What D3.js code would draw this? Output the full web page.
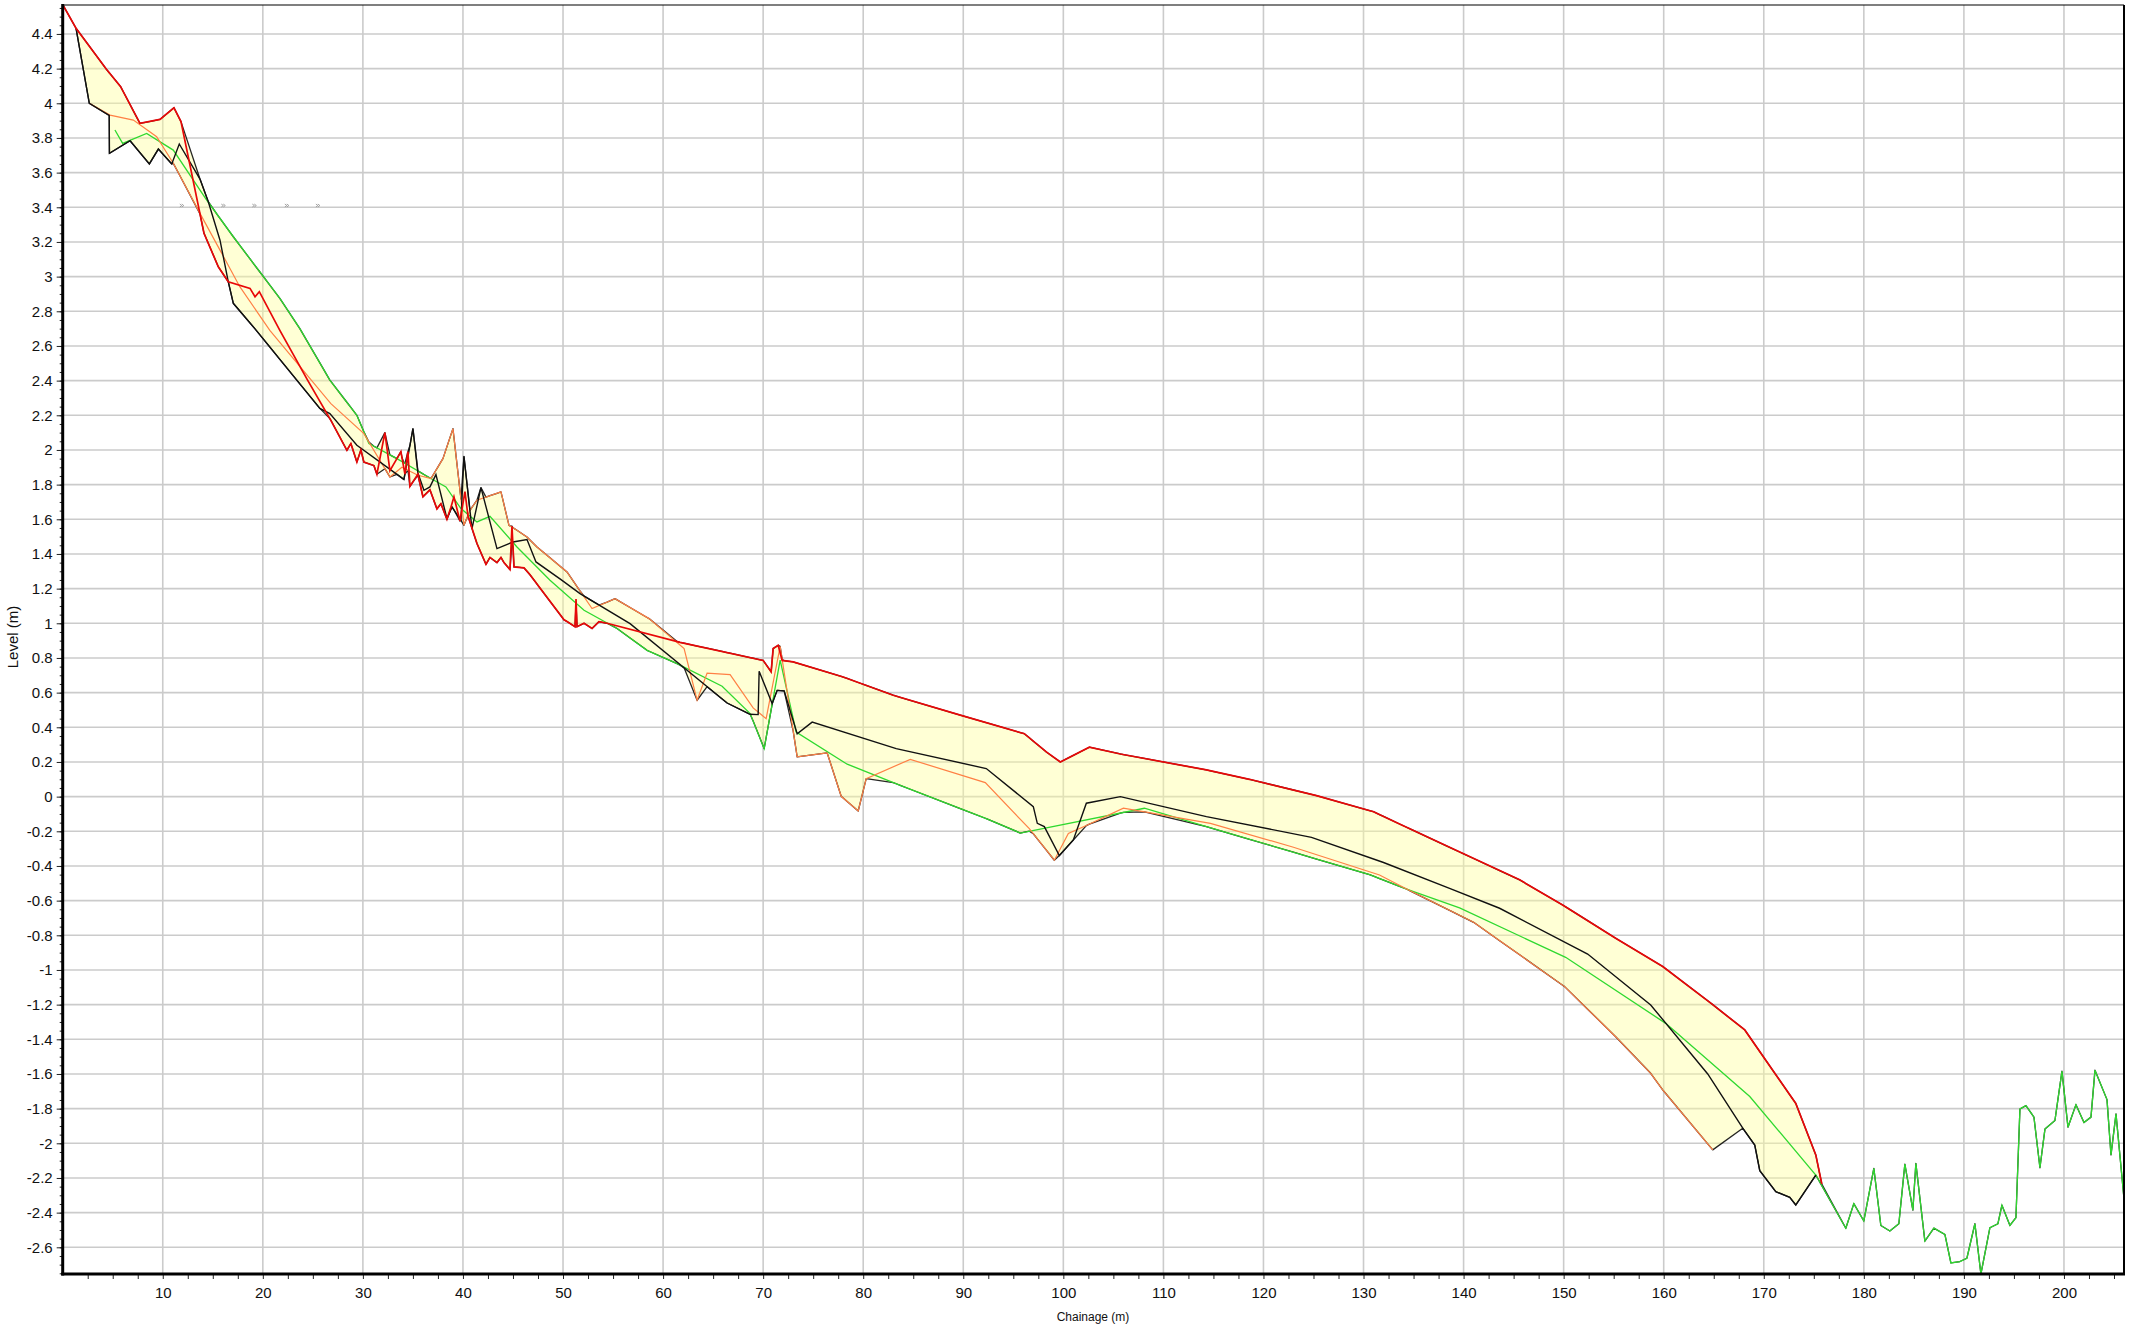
<!DOCTYPE html>
<html>
<head>
<meta charset="utf-8">
<script src="https://cdn.jsdelivr.net/npm/d3@7"></script>
<style>
  html, body { margin: 0; padding: 0; background: #fff; }
  svg { display: block; }
  text { font-family: "Liberation Sans", Arial, sans-serif; fill: #111; }
</style>
</head>
<body>
<svg id="chart" width="2134" height="1334"></svg>
<script>
// ---------------- DATA ----------------
const xTickLabels = [10,20,30,40,50,60,70,80,90,100,110,120,130,140,150,160,170,180,190,200];
const yTickLabels = [-2.6,-2.4,-2.2,-2,-1.8,-1.6,-1.4,-1.2,-1,-0.8,-0.6,-0.4,-0.2,0,0.2,0.4,0.6,0.8,1,1.2,1.4,1.6,1.8,2,2.2,2.4,2.6,2.8,3,3.2,3.4,3.6,3.8,4,4.2,4.4];
const xTitle = "Chainage (m)";
const yTitle = "Level (m)";

// [chainage, level]
const redProfile = [
 [0.06,4.563],[1.33,4.433],[4.37,4.196],[5.79,4.096],[7.72,3.884],[9.72,3.907],[11.12,3.974],[11.82,3.894],
 [14.12,3.25],[15.55,3.057],[16.55,2.97],[18.72,2.932],[19.22,2.884],[19.65,2.913],[21.7,2.69],[24.5,2.4],
 [26.8,2.171],[28.4,1.998],[28.8,2.037],[29.4,1.93],[29.8,2.0],[30.1,1.93],[31.1,1.91],[31.4,1.86],[32.2,2.10],
 [32.7,1.88],[33.4,1.95],[33.8,1.99],[34.2,1.86],[34.5,1.99],[34.7,1.79],[35.5,1.86],[36.0,1.73],[36.7,1.77],
 [37.4,1.66],[37.8,1.69],[38.4,1.60],[38.8,1.67],[39.1,1.73],[39.7,1.59],[40.2,1.76],[40.5,1.62],[41.4,1.46],
 [42.3,1.34],[42.7,1.38],[43.4,1.35],[43.8,1.38],[44.1,1.35],[44.7,1.31],[44.9,1.56],[45.1,1.325],[46.1,1.32],
 [46.7,1.28],[50.1,1.02],[50.4,1.01],[51.2,0.98],[51.3,1.14],[51.4,0.98],[52.1,1.0],[52.9,0.97],[53.6,1.01],
 [54.4,1.0],[61.7,0.89],[70.0,0.786],[70.8,0.72],[71.0,0.854],[71.5,0.873],[71.9,0.786],[73.0,0.777],[78.0,0.69],
 [83.0,0.585],[89.7,0.47],[96.1,0.363],[98.3,0.258],[99.7,0.2],[102.6,0.285],[105.7,0.246],[114.3,0.154],
 [118.6,0.10],[125.3,0.006],[131.0,-0.087],[133.6,-0.158],[140.0,-0.33],[145.6,-0.48],[149.9,-0.625],
 [155.2,-0.817],[159.9,-0.98],[164.9,-1.20],[168.1,-1.346],[173.2,-1.77],[175.2,-2.067],[175.8,-2.235]
];

const blackProfile = [
 [1.33,4.433],[2.66,4.0],[4.65,3.93],[4.67,3.711],[6.73,3.784],[8.66,3.65],[9.56,3.736],[10.9,3.65],[11.65,3.765],
 [13.72,3.563],[14.55,3.432],[15.72,3.21],[16.55,2.97],[17.05,2.846],[19.2,2.70],[25.7,2.24],[26.7,2.21],[29.4,2.027],
 [34.1,1.83],[35.0,2.123],[35.5,1.867],[36.1,1.767],[36.7,1.787],[37.3,1.858],[38.4,1.604],[38.9,1.671],[39.8,1.594],
 [40.1,1.963],[40.9,1.546],[41.8,1.783],[43.4,1.431],[45.0,1.469],[46.4,1.483],[47.3,1.354],[49.8,1.252],[51.7,1.171],
 [56.7,0.998],[66.4,0.54],[68.7,0.475],[69.5,0.473],[69.6,0.723],[70.9,0.537],[71.4,0.613],[72.1,0.61],[73.4,0.363],
 [74.9,0.43],[83.3,0.277],[92.3,0.162],[97.0,-0.058],[97.4,-0.154],[98.1,-0.173],[99.6,-0.34],[101.0,-0.25],
 [102.3,-0.038],[105.7,0.0],[114.3,-0.115],[124.8,-0.235],[132.0,-0.38],[138.6,-0.529],[143.6,-0.644],[152.4,-0.908],
 [158.7,-1.202],[164.4,-1.60],[167.9,-1.913],[169.1,-2.01],[169.6,-2.158],[171.2,-2.279],[172.6,-2.312],[173.2,-2.356],
 [175.2,-2.183]
];

const orangeProfile = [
 [2.66,4.0],[4.73,3.932],[7.06,3.903],[9.39,3.807],[11.05,3.654],[13.72,3.365],[15.72,3.153],[17.7,2.942],[20.7,2.69],
 [26.8,2.267],[30.1,2.094],[32.7,1.844],[33.9,1.90],[35.5,1.854],[36.8,1.835],[38.0,1.95],[39.0,2.123],[40.1,1.565],
 [40.7,1.652],[41.4,1.71],[43.8,1.758],[44.6,1.565],[45.4,1.537],[46.4,1.498],[47.4,1.44],[50.4,1.296],[52.9,1.085],
 [55.2,1.142],[58.6,1.027],[62.1,0.854],[63.4,0.556],[64.4,0.713],[66.7,0.704],[69.0,0.512],[70.3,0.45],[71.7,0.867],
 [73.4,0.229],[76.4,0.252],[77.8,0.002],[79.5,-0.083],[80.3,0.104],[84.7,0.215],[92.2,0.081],[96.6,-0.185],
 [99.1,-0.367],[100.5,-0.212],[102.3,-0.167],[106.0,-0.067],[114.7,-0.154],[123.0,-0.292],[131.6,-0.452],
 [134.6,-0.542],[141.0,-0.725],[150.1,-1.096],[155.2,-1.385],[158.7,-1.596],[159.9,-1.692],[164.9,-2.038]
];

const greenProfile = [
 [5.22,3.846],[5.99,3.769],[8.39,3.826],[11.05,3.73],[14.39,3.442],[17.05,3.23],[21.7,2.874],[23.7,2.70],[26.7,2.403],
 [29.4,2.2],[30.6,2.037],[33.4,1.95],[36.8,1.835],[38.3,1.787],[39.8,1.662],[41.4,1.585],[42.7,1.617],[45.4,1.44],
 [48.7,1.248],[52.1,1.075],[55.4,0.97],[58.4,0.844],[61.4,0.767],[65.9,0.637],[68.7,0.479],[70.1,0.277],[71.7,0.787],
 [73.3,0.373],[78.4,0.187],[83.7,0.065],[92.3,-0.127],[95.7,-0.21],[108.1,-0.067],[114.3,-0.173],[130.6,-0.45],
 [134.3,-0.533],[139.6,-0.642],[150.2,-0.927],[160.2,-1.308],[168.6,-1.73],[175.2,-2.183],[178.2,-2.49],[179.0,-2.348],
 [180.0,-2.448],[181.0,-2.145],[181.7,-2.474],[182.6,-2.506],[183.5,-2.464],[184.1,-2.12],[184.9,-2.386],[185.2,-2.116],
 [186.1,-2.564],[187.0,-2.489],[188.1,-2.526],[188.7,-2.69],[189.6,-2.682],[190.3,-2.663],[191.1,-2.464],[191.7,-2.754],
 [192.6,-2.487],[193.4,-2.464],[193.8,-2.357],[194.6,-2.474],[195.2,-2.429],[195.6,-1.802],[196.2,-1.783],[197.0,-1.849],
 [197.6,-2.141],[198.1,-1.918],[199.1,-1.868],[199.8,-1.584],[200.4,-1.907],[201.2,-1.777],[202.0,-1.88],[202.7,-1.849],
 [203.1,-1.578],[204.3,-1.748],[204.7,-2.067],[205.2,-1.83],[206.0,-2.319]
];

// small grey markers along level 3.4
const markerChainage = [11.9, 16.05, 19.15, 22.4, 25.5];
const markerLevel = 3.41;

// ---------------- CHART ----------------
const svg = d3.select("#chart");
const X0 = 62.7, X1 = 2124, Y0 = 5, Y1 = 1274;
const x = d3.scaleLinear().domain([0, 206]).range([X0, X1]);
const y = d3.scaleLinear().domain([-2.754, 4.567]).range([Y1, Y0]);

const plot = svg.append("g");
svg.append("defs").append("clipPath").attr("id", "clip")
  .append("rect").attr("x", X0).attr("y", Y0).attr("width", X1 - X0).attr("height", Y1 - Y0);

// grid
const grid = plot.append("g").attr("stroke", "#cbcbcb").attr("stroke-width", 1.6);
grid.selectAll("line.v").data(xTickLabels).join("line")
  .attr("x1", d => x(d)).attr("x2", d => x(d)).attr("y1", Y0).attr("y2", Y1);
grid.selectAll("line.h").data(yTickLabels).join("line")
  .attr("x1", X0).attr("x2", X1).attr("y1", d => y(d)).attr("y2", d => y(d));

// envelope fill between all profiles
const profiles = [redProfile, blackProfile, orangeProfile, greenProfile];
function interp(p, cx) {
  if (cx < p[0][0] || cx > p[p.length - 1][0]) return null;
  let vals = [];
  for (let i = 0; i < p.length; i++) {
    if (p[i][0] === cx) vals.push(p[i][1]);
  }
  if (vals.length) return vals;
  for (let i = 0; i < p.length - 1; i++) {
    const a = p[i], b = p[i + 1];
    if (a[0] < cx && cx < b[0]) return [a[1] + (b[1] - a[1]) * (cx - a[0]) / (b[0] - a[0])];
  }
  return null;
}
const xs = Array.from(new Set(profiles.flatMap(p => p.map(d => d[0])))).sort((a, b) => a - b);
const env = xs.map(cx => {
  let vs = [];
  profiles.forEach(p => { const r = interp(p, cx); if (r) vs = vs.concat(r); });
  return { c: cx, lo: d3.min(vs), hi: d3.max(vs) };
});
const area = d3.area().x(d => x(d.c)).y0(d => y(d.lo)).y1(d => y(d.hi));
const g = plot.append("g").attr("clip-path", "url(#clip)");
g.append("path").datum(env).attr("d", area)
  .attr("fill", "#ffff9a").attr("fill-opacity", 0.42)
  .attr("stroke", "#000").attr("stroke-opacity", 0.85).attr("stroke-width", 1.3)
  .attr("stroke-linejoin", "round");

const line = d3.line().x(d => x(d[0])).y(d => y(d[1]));
g.append("path").datum(greenProfile).attr("d", line).attr("fill", "none")
  .attr("stroke", "#2fd92f").attr("stroke-width", 1.3);
g.append("path").datum(orangeProfile).attr("d", line).attr("fill", "none")
  .attr("stroke", "#ff8045").attr("stroke-width", 1.2);
g.append("path").datum(blackProfile).attr("d", line).attr("fill", "none")
  .attr("stroke", "#111").attr("stroke-width", 1.4);
g.append("path").datum(redProfile).attr("d", line).attr("fill", "none")
  .attr("stroke", "#e80808").attr("stroke-width", 1.7);

// markers
g.selectAll("path.mk").data(markerChainage).join("path")
  .attr("transform", d => `translate(${x(d)},${y(markerLevel)})`)
  .attr("d", "M-2,-1.5L0,0L-2,1.5M0,-1.5L2,0L0,1.5")
  .attr("fill", "none").attr("stroke", "#999").attr("stroke-width", 0.9);

// axes
const yMinor = d3.range(-55, 92).map(i => i * 0.05);
const yAxisMinor = d3.axisLeft(y).tickValues(yMinor).tickSize(3).tickFormat("");
svg.append("g").attr("transform", `translate(${X0},0)`).call(yAxisMinor)
  .call(a => a.select(".domain").remove())
  .selectAll("line").attr("stroke", "#222");
const yAxis = d3.axisLeft(y).tickValues(yTickLabels).tickSize(6).tickPadding(4)
  .tickFormat(d => String(Math.round(d * 10) / 10));
const ya = svg.append("g").attr("transform", `translate(${X0},0)`).call(yAxis);
ya.select(".domain").remove();
ya.selectAll("line").attr("stroke", "#222");
ya.selectAll("text").attr("font-size", 15).attr("font-family", "Liberation Sans, Arial, sans-serif").attr("fill", "#111");

const xMinor = d3.range(1, 83).map(i => i * 2.5);
const xAxis = d3.axisBottom(x).tickValues(xMinor).tickSize(5).tickPadding(8)
  .tickFormat(d => (d % 10 === 0 ? String(d) : ""));
const xa = svg.append("g").attr("transform", `translate(0,${Y1})`).call(xAxis);
xa.select(".domain").remove();
xa.selectAll("line").attr("stroke", "#222");
xa.selectAll("text").attr("font-size", 15).attr("font-family", "Liberation Sans, Arial, sans-serif").attr("fill", "#111");

// frame
svg.append("line").attr("x1", X0).attr("x2", X1).attr("y1", Y0).attr("y2", Y0).attr("stroke", "#000").attr("stroke-width", 1.2);
svg.append("line").attr("x1", X1).attr("x2", X1).attr("y1", Y0).attr("y2", Y1).attr("stroke", "#000").attr("stroke-width", 2);
svg.append("line").attr("x1", X0).attr("x2", X0).attr("y1", Y0 - 1).attr("y2", Y1 + 1.5).attr("stroke", "#000").attr("stroke-width", 3);
svg.append("line").attr("x1", X0 - 1.5).attr("x2", X1 + 1).attr("y1", Y1).attr("y2", Y1).attr("stroke", "#000").attr("stroke-width", 3);

// titles
svg.append("text").attr("x", 1093).attr("y", 1321).attr("text-anchor", "middle")
  .attr("font-size", 12).text(xTitle);
svg.append("text").attr("transform", "translate(18,637) rotate(-90)").attr("text-anchor", "middle")
  .attr("font-size", 15).text(yTitle);
</script>
</body>
</html>
